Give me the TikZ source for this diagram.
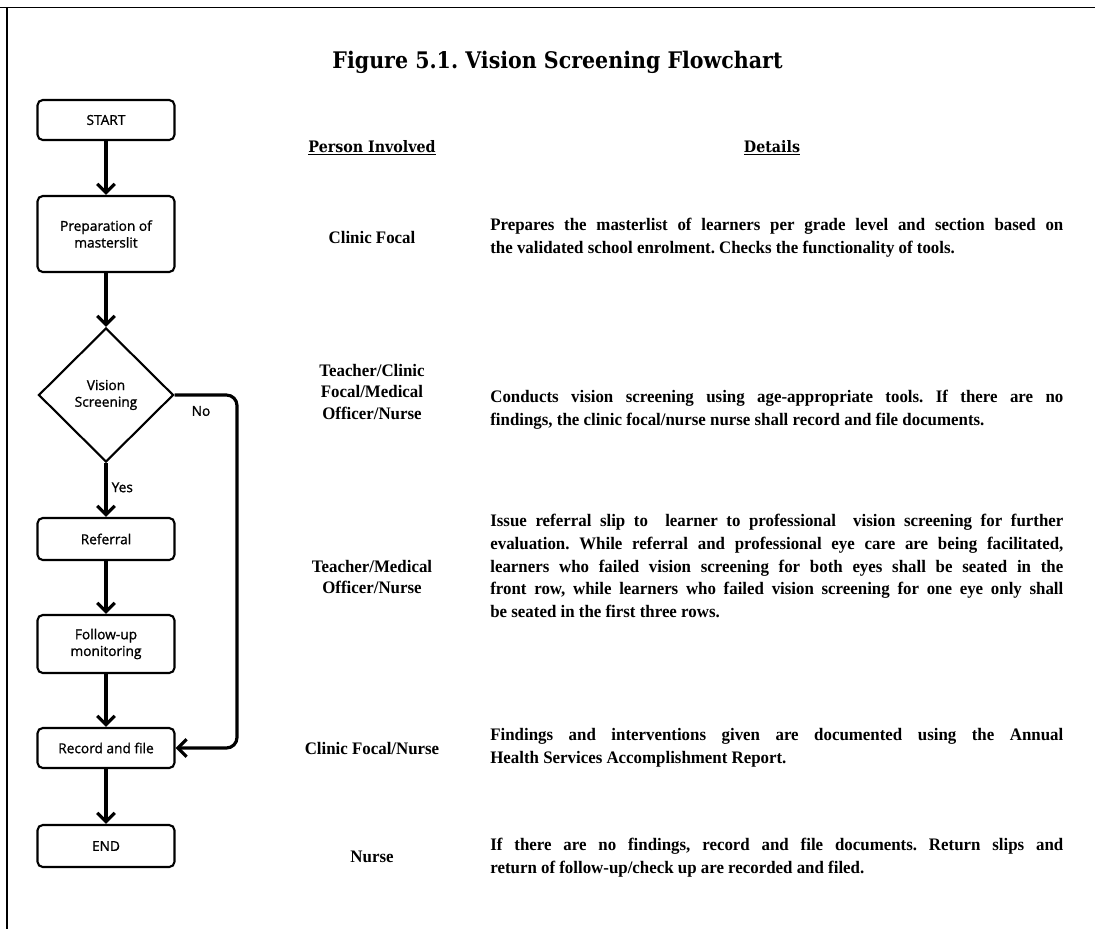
\documentclass[tikz,border=0pt]{standalone}
\usepackage{fontspec}
\setmainfont{Liberation Serif}
\setsansfont{Open Sans}
\newfontfamily\headfont{DejaVu Serif}[FakeStretch=0.9]
\newfontfamily\detailfont{Liberation Serif}[FakeStretch=0.96]
\newfontfamily\boxfont{Open Sans}[FakeBold=1.2]
\usepackage{tikz}
\usetikzlibrary{arrows.meta, positioning, shapes.geometric, calc}

\begin{document}
\frenchspacing
\begin{tikzpicture}[
  box/.style={draw, rounded corners=3pt, line width=1.2pt, minimum width=2.74cm, align=center, font=\boxfont\fontsize{7.8}{9.5}\selectfont},
  check/.style={draw, diamond, line width=1.2pt, inner sep=0pt, minimum width=2.7cm, minimum height=2.68cm, align=center, font=\boxfont\fontsize{7.8}{9.5}\selectfont},
  flow/.style={line width=1.8pt, -{Straight Barb[length=5pt,width=10pt]}},
  tag/.style={font=\boxfont\fontsize{7.8}{9.5}\selectfont},
  who/.style={align=center, font=\detailfont\bfseries\fontsize{10}{12.5}\selectfont},
  info/.style={anchor=west, text width=11.46cm, inner sep=0pt, align=justify, font=\detailfont\bfseries\fontsize{10}{13}\selectfont},
  colhead/.style={font=\headfont\bfseries\fontsize{9}{11}\selectfont},
]
  \useasboundingbox (0,0) rectangle (21.9,-18.58);
  \draw[line width=1.1pt] (0,-0.15) -- (21.9,-0.15);
  \draw[line width=1.1pt] (0.14,-0.15) -- (0.14,-18.58);

  \node[font=\headfont\bfseries\fontsize{13}{15}\selectfont] (title) at (11.15,-1.25) {Figure 5.1. Vision Screening Flowchart};

  % flowchart
  \node[box, minimum height=0.8cm]  (start)  at (2.12,-2.40)  {START};
  \node[box, minimum height=1.52cm] (prep)   at (2.12,-4.68)  {Preparation of\\masterslit};
  \node[check]                      (vs)     at (2.12,-7.90)  {Vision\\Screening};
  \node[box, minimum height=0.84cm] (refer)  at (2.12,-10.78) {Referral};
  \node[box, minimum height=1.16cm] (follow) at (2.12,-12.88) {Follow-up\\monitoring};
  \node[box, minimum height=0.8cm]  (record) at (2.12,-14.96) {Record and file};
  \node[box, minimum height=0.84cm] (end)    at (2.12,-16.92) {END};
  \coordinate (noturn) at (4.74,-7.90);

  \draw[flow] (start) -- (prep);
  \draw[flow] (prep) -- (vs);
  \draw[flow] (vs) -- (refer) node[tag, pos=0.45, right=-1pt] {Yes};
  \draw[flow] (refer) -- (follow);
  \draw[flow] (follow) -- (record);
  \draw[flow] (record) -- (end);
  \draw[flow, rounded corners=6pt] (vs.east) -- (noturn) |- (record.east);
  \node[tag] (no) at (4.02,-8.22) {No};

  % columns
  \node[colhead] (hwho)  at (7.44,-2.96) {\underline{Person Involved}};
  \node[colhead] (hinfo) at (15.44,-2.96) {\underline{Details}};

  \node[who] (w1) at (7.44,-4.74)  {Clinic Focal};
  \node[who] (w2) at (7.44,-7.84)  {Teacher/Clinic\\Focal/Medical\\Officer/Nurse};
  \node[who] (w3) at (7.44,-11.54) {Teacher/Medical\\Officer/Nurse};
  \node[who] (w4) at (7.44,-14.96) {Clinic Focal/Nurse};
  \node[who] (w5) at (7.44,-17.14) {Nurse};

  \node[info] (d1) at (9.8,-4.75)  {Prepares the masterlist of learners per grade level and section based on\linebreak the validated school enrolment. Checks the functionality of tools.};
  \node[info] (d2) at (9.8,-8.19)  {Conducts vision screening using age-appropriate tools. If there are no\linebreak findings, the clinic focal/nurse nurse shall record and file documents.};
  \node[info] (d3) at (9.8,-11.32) {Issue referral slip to\ \ learner to professional\ \ vision screening for further\linebreak evaluation. While referral and professional eye care are being facilitated,\linebreak learners who failed vision screening for both eyes shall be seated in the\linebreak front row, while learners who failed vision screening for one eye only shall\linebreak be seated in the first three rows.};
  \node[info] (d4) at (9.8,-14.95) {Findings and interventions given are documented using the Annual\linebreak Health Services Accomplishment Report.};
  \node[info] (d5) at (9.8,-17.15) {If there are no findings, record and file documents. Return slips and\linebreak return of follow-up/check up are recorded and filed.};
\end{tikzpicture}
\end{document}
